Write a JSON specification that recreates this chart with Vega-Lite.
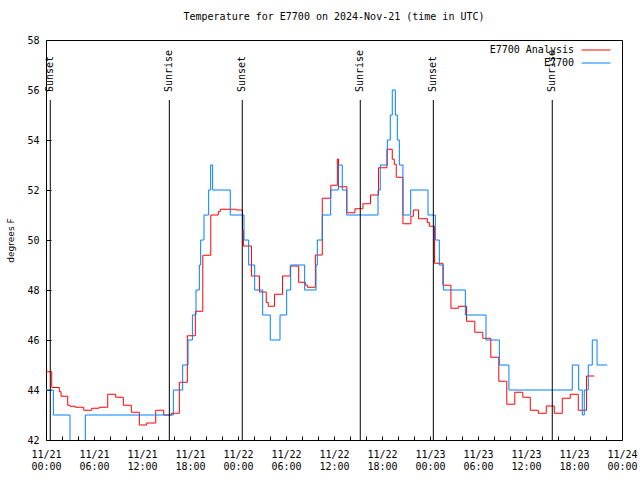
{
  "$schema": "https://vega.github.io/schema/vega-lite/v6.json",
  "width": 576,
  "height": 400,
  "autosize": {"type": "none"},
  "padding": {"left": 46, "top": 40, "right": 18, "bottom": 40},
  "background": "white",
  "title": {"text": "Temperature for E7700 on 2024-Nov-21 (time in UTC)", "font": "DejaVu Sans Mono", "fontSize": 10, "fontWeight": "normal", "color": "black", "offset": 13, "frame": "group", "anchor": "middle"},
  "config": {
    "view": {"stroke": "black", "strokeWidth": 1},
    "axis": {"labelFont": "DejaVu Sans Mono", "labelFontSize": 10, "labelColor": "black", "tickColor": "black", "tickWidth": 1, "domain": false, "grid": false}
  },
  "datasets": {
    "temps": [
      {"series": "E7700 Analysis", "time": "2024-11-21T00:00:00Z", "temp": 44.73},
      {"series": "E7700 Analysis", "time": "2024-11-21T00:43:00Z", "temp": 44.1},
      {"series": "E7700 Analysis", "time": "2024-11-21T01:40:00Z", "temp": 43.93},
      {"series": "E7700 Analysis", "time": "2024-11-21T01:53:00Z", "temp": 43.75},
      {"series": "E7700 Analysis", "time": "2024-11-21T02:43:00Z", "temp": 43.39},
      {"series": "E7700 Analysis", "time": "2024-11-21T03:00:00Z", "temp": 43.35},
      {"series": "E7700 Analysis", "time": "2024-11-21T03:40:00Z", "temp": 43.31},
      {"series": "E7700 Analysis", "time": "2024-11-21T04:43:00Z", "temp": 43.19},
      {"series": "E7700 Analysis", "time": "2024-11-21T05:43:00Z", "temp": 43.27},
      {"series": "E7700 Analysis", "time": "2024-11-21T06:38:00Z", "temp": 43.31},
      {"series": "E7700 Analysis", "time": "2024-11-21T07:43:00Z", "temp": 43.83},
      {"series": "E7700 Analysis", "time": "2024-11-21T08:43:00Z", "temp": 43.71},
      {"series": "E7700 Analysis", "time": "2024-11-21T09:40:00Z", "temp": 43.39},
      {"series": "E7700 Analysis", "time": "2024-11-21T10:40:00Z", "temp": 43.11},
      {"series": "E7700 Analysis", "time": "2024-11-21T11:40:00Z", "temp": 42.6},
      {"series": "E7700 Analysis", "time": "2024-11-21T12:35:00Z", "temp": 42.68},
      {"series": "E7700 Analysis", "time": "2024-11-21T13:43:00Z", "temp": 43.19},
      {"series": "E7700 Analysis", "time": "2024-11-21T14:43:00Z", "temp": 43.0},
      {"series": "E7700 Analysis", "time": "2024-11-21T15:40:00Z", "temp": 43.07},
      {"series": "E7700 Analysis", "time": "2024-11-21T16:40:00Z", "temp": 44.31},
      {"series": "E7700 Analysis", "time": "2024-11-21T17:40:00Z", "temp": 46.17},
      {"series": "E7700 Analysis", "time": "2024-11-21T18:40:00Z", "temp": 47.15},
      {"series": "E7700 Analysis", "time": "2024-11-21T19:36:00Z", "temp": 49.39},
      {"series": "E7700 Analysis", "time": "2024-11-21T20:36:00Z", "temp": 51.0},
      {"series": "E7700 Analysis", "time": "2024-11-21T21:32:00Z", "temp": 51.13},
      {"series": "E7700 Analysis", "time": "2024-11-21T21:47:00Z", "temp": 51.23},
      {"series": "E7700 Analysis", "time": "2024-11-21T23:47:00Z", "temp": 51.2},
      {"series": "E7700 Analysis", "time": "2024-11-22T00:34:00Z", "temp": 50.4},
      {"series": "E7700 Analysis", "time": "2024-11-22T00:41:00Z", "temp": 49.76},
      {"series": "E7700 Analysis", "time": "2024-11-22T01:41:00Z", "temp": 48.56},
      {"series": "E7700 Analysis", "time": "2024-11-22T02:41:00Z", "temp": 47.92},
      {"series": "E7700 Analysis", "time": "2024-11-22T03:32:00Z", "temp": 47.5},
      {"series": "E7700 Analysis", "time": "2024-11-22T03:47:00Z", "temp": 47.35},
      {"series": "E7700 Analysis", "time": "2024-11-22T04:34:00Z", "temp": 47.83},
      {"series": "E7700 Analysis", "time": "2024-11-22T05:34:00Z", "temp": 48.56},
      {"series": "E7700 Analysis", "time": "2024-11-22T06:32:00Z", "temp": 48.96},
      {"series": "E7700 Analysis", "time": "2024-11-22T07:35:00Z", "temp": 48.31},
      {"series": "E7700 Analysis", "time": "2024-11-22T08:25:00Z", "temp": 48.2},
      {"series": "E7700 Analysis", "time": "2024-11-22T08:40:00Z", "temp": 48.11},
      {"series": "E7700 Analysis", "time": "2024-11-22T09:40:00Z", "temp": 49.4},
      {"series": "E7700 Analysis", "time": "2024-11-22T10:32:00Z", "temp": 51.67},
      {"series": "E7700 Analysis", "time": "2024-11-22T11:36:00Z", "temp": 52.19},
      {"series": "E7700 Analysis", "time": "2024-11-22T12:25:00Z", "temp": 53.24},
      {"series": "E7700 Analysis", "time": "2024-11-22T12:34:00Z", "temp": 52.13},
      {"series": "E7700 Analysis", "time": "2024-11-22T13:37:00Z", "temp": 51.09},
      {"series": "E7700 Analysis", "time": "2024-11-22T14:37:00Z", "temp": 51.25},
      {"series": "E7700 Analysis", "time": "2024-11-22T15:37:00Z", "temp": 51.45},
      {"series": "E7700 Analysis", "time": "2024-11-22T16:34:00Z", "temp": 51.8},
      {"series": "E7700 Analysis", "time": "2024-11-22T17:34:00Z", "temp": 52.89},
      {"series": "E7700 Analysis", "time": "2024-11-22T18:37:00Z", "temp": 53.63},
      {"series": "E7700 Analysis", "time": "2024-11-22T19:17:00Z", "temp": 53.23},
      {"series": "E7700 Analysis", "time": "2024-11-22T19:32:00Z", "temp": 53.03},
      {"series": "E7700 Analysis", "time": "2024-11-22T19:47:00Z", "temp": 52.51},
      {"series": "E7700 Analysis", "time": "2024-11-22T20:37:00Z", "temp": 50.65},
      {"series": "E7700 Analysis", "time": "2024-11-22T21:37:00Z", "temp": 50.95},
      {"series": "E7700 Analysis", "time": "2024-11-22T21:55:00Z", "temp": 51.2},
      {"series": "E7700 Analysis", "time": "2024-11-22T22:34:00Z", "temp": 50.85},
      {"series": "E7700 Analysis", "time": "2024-11-22T23:40:00Z", "temp": 50.7},
      {"series": "E7700 Analysis", "time": "2024-11-22T23:55:00Z", "temp": 50.55},
      {"series": "E7700 Analysis", "time": "2024-11-23T00:34:00Z", "temp": 49.07},
      {"series": "E7700 Analysis", "time": "2024-11-23T01:37:00Z", "temp": 48.19},
      {"series": "E7700 Analysis", "time": "2024-11-23T02:37:00Z", "temp": 47.27},
      {"series": "E7700 Analysis", "time": "2024-11-23T03:32:00Z", "temp": 47.35},
      {"series": "E7700 Analysis", "time": "2024-11-23T04:34:00Z", "temp": 46.75},
      {"series": "E7700 Analysis", "time": "2024-11-23T05:36:00Z", "temp": 46.31},
      {"series": "E7700 Analysis", "time": "2024-11-23T06:36:00Z", "temp": 46.07},
      {"series": "E7700 Analysis", "time": "2024-11-23T07:36:00Z", "temp": 45.31},
      {"series": "E7700 Analysis", "time": "2024-11-23T08:36:00Z", "temp": 44.35},
      {"series": "E7700 Analysis", "time": "2024-11-23T09:36:00Z", "temp": 43.43},
      {"series": "E7700 Analysis", "time": "2024-11-23T10:36:00Z", "temp": 43.91},
      {"series": "E7700 Analysis", "time": "2024-11-23T11:36:00Z", "temp": 43.71},
      {"series": "E7700 Analysis", "time": "2024-11-23T12:32:00Z", "temp": 43.19},
      {"series": "E7700 Analysis", "time": "2024-11-23T13:32:00Z", "temp": 43.07},
      {"series": "E7700 Analysis", "time": "2024-11-23T14:32:00Z", "temp": 43.36},
      {"series": "E7700 Analysis", "time": "2024-11-23T15:32:00Z", "temp": 43.07},
      {"series": "E7700 Analysis", "time": "2024-11-23T16:32:00Z", "temp": 43.67},
      {"series": "E7700 Analysis", "time": "2024-11-23T17:32:00Z", "temp": 43.83},
      {"series": "E7700 Analysis", "time": "2024-11-23T18:32:00Z", "temp": 43.19},
      {"series": "E7700 Analysis", "time": "2024-11-23T19:34:00Z", "temp": 44.56},
      {"series": "E7700 Analysis", "time": "2024-11-23T20:32:00Z", "temp": 44.56},
      {"series": "E7700", "time": "2024-11-21T00:00:00Z", "temp": 44},
      {"series": "E7700", "time": "2024-11-21T00:55:00Z", "temp": 43},
      {"series": "E7700", "time": "2024-11-21T03:00:00Z", "temp": 41},
      {"series": "E7700", "time": "2024-11-21T04:55:00Z", "temp": 43},
      {"series": "E7700", "time": "2024-11-21T15:55:00Z", "temp": 44},
      {"series": "E7700", "time": "2024-11-21T17:05:00Z", "temp": 45},
      {"series": "E7700", "time": "2024-11-21T17:45:00Z", "temp": 46},
      {"series": "E7700", "time": "2024-11-21T18:18:00Z", "temp": 47},
      {"series": "E7700", "time": "2024-11-21T18:45:00Z", "temp": 48},
      {"series": "E7700", "time": "2024-11-21T19:10:00Z", "temp": 49},
      {"series": "E7700", "time": "2024-11-21T19:20:00Z", "temp": 50},
      {"series": "E7700", "time": "2024-11-21T19:45:00Z", "temp": 51},
      {"series": "E7700", "time": "2024-11-21T20:20:00Z", "temp": 52},
      {"series": "E7700", "time": "2024-11-21T20:35:00Z", "temp": 53},
      {"series": "E7700", "time": "2024-11-21T20:50:00Z", "temp": 52},
      {"series": "E7700", "time": "2024-11-21T23:02:00Z", "temp": 51},
      {"series": "E7700", "time": "2024-11-22T00:45:00Z", "temp": 50},
      {"series": "E7700", "time": "2024-11-22T01:20:00Z", "temp": 49},
      {"series": "E7700", "time": "2024-11-22T02:05:00Z", "temp": 48},
      {"series": "E7700", "time": "2024-11-22T03:05:00Z", "temp": 47},
      {"series": "E7700", "time": "2024-11-22T04:02:00Z", "temp": 46},
      {"series": "E7700", "time": "2024-11-22T05:15:00Z", "temp": 47},
      {"series": "E7700", "time": "2024-11-22T06:05:00Z", "temp": 48},
      {"series": "E7700", "time": "2024-11-22T06:35:00Z", "temp": 49},
      {"series": "E7700", "time": "2024-11-22T08:20:00Z", "temp": 48},
      {"series": "E7700", "time": "2024-11-22T09:45:00Z", "temp": 49},
      {"series": "E7700", "time": "2024-11-22T09:55:00Z", "temp": 50},
      {"series": "E7700", "time": "2024-11-22T10:32:00Z", "temp": 51},
      {"series": "E7700", "time": "2024-11-22T11:35:00Z", "temp": 52},
      {"series": "E7700", "time": "2024-11-22T12:32:00Z", "temp": 53},
      {"series": "E7700", "time": "2024-11-22T13:02:00Z", "temp": 52},
      {"series": "E7700", "time": "2024-11-22T13:35:00Z", "temp": 51},
      {"series": "E7700", "time": "2024-11-22T17:30:00Z", "temp": 52},
      {"series": "E7700", "time": "2024-11-22T17:47:00Z", "temp": 53},
      {"series": "E7700", "time": "2024-11-22T18:40:00Z", "temp": 54},
      {"series": "E7700", "time": "2024-11-22T19:02:00Z", "temp": 55},
      {"series": "E7700", "time": "2024-11-22T19:17:00Z", "temp": 56},
      {"series": "E7700", "time": "2024-11-22T19:40:00Z", "temp": 55},
      {"series": "E7700", "time": "2024-11-22T19:55:00Z", "temp": 54},
      {"series": "E7700", "time": "2024-11-22T20:10:00Z", "temp": 53},
      {"series": "E7700", "time": "2024-11-22T20:37:00Z", "temp": 51},
      {"series": "E7700", "time": "2024-11-22T21:35:00Z", "temp": 52},
      {"series": "E7700", "time": "2024-11-22T23:45:00Z", "temp": 51},
      {"series": "E7700", "time": "2024-11-23T00:40:00Z", "temp": 50},
      {"series": "E7700", "time": "2024-11-23T01:10:00Z", "temp": 49},
      {"series": "E7700", "time": "2024-11-23T01:40:00Z", "temp": 48},
      {"series": "E7700", "time": "2024-11-23T04:25:00Z", "temp": 47},
      {"series": "E7700", "time": "2024-11-23T07:00:00Z", "temp": 46},
      {"series": "E7700", "time": "2024-11-23T08:40:00Z", "temp": 45},
      {"series": "E7700", "time": "2024-11-23T09:52:00Z", "temp": 44},
      {"series": "E7700", "time": "2024-11-23T17:47:00Z", "temp": 45},
      {"series": "E7700", "time": "2024-11-23T18:35:00Z", "temp": 44},
      {"series": "E7700", "time": "2024-11-23T19:02:00Z", "temp": 43},
      {"series": "E7700", "time": "2024-11-23T19:17:00Z", "temp": 44},
      {"series": "E7700", "time": "2024-11-23T19:47:00Z", "temp": 45},
      {"series": "E7700", "time": "2024-11-23T20:17:00Z", "temp": 46},
      {"series": "E7700", "time": "2024-11-23T20:53:00Z", "temp": 45},
      {"series": "E7700", "time": "2024-11-23T22:10:00Z", "temp": 45}
    ],
    "sun": [
      {"time": "2024-11-21T00:32:00Z", "label": "Sunset"},
      {"time": "2024-11-21T15:25:00Z", "label": "Sunrise"},
      {"time": "2024-11-22T00:32:00Z", "label": "Sunset"},
      {"time": "2024-11-22T15:17:00Z", "label": "Sunrise"},
      {"time": "2024-11-23T00:25:00Z", "label": "Sunset"},
      {"time": "2024-11-23T15:17:00Z", "label": "Sunrise"}
    ]
  },
  "layer": [
    {
      "data": {"name": "temps"},
      "mark": {"type": "line", "interpolate": "step-after", "strokeWidth": 1, "clip": true},
      "encoding": {
        "x": {
          "field": "time", "type": "temporal",
          "scale": {"type": "utc", "domain": [1732147200000, 1732406400000]},
          "axis": {
            "orient": "bottom", "title": null,
            "tickCount": 60,
            "values": [1732147200000, 1732154400000, 1732161600000, 1732168800000, 1732176000000, 1732183200000, 1732190400000, 1732197600000, 1732204800000, 1732212000000, 1732219200000, 1732226400000, 1732233600000, 1732240800000, 1732248000000, 1732255200000, 1732262400000, 1732269600000, 1732276800000, 1732284000000, 1732291200000, 1732298400000, 1732305600000, 1732312800000, 1732320000000, 1732327200000, 1732334400000, 1732341600000, 1732348800000, 1732356000000, 1732363200000, 1732370400000, 1732377600000, 1732384800000, 1732392000000, 1732399200000, 1732406400000],
            "labelExpr": "utchours(datum.value) % 6 == 0 ? [utcFormat(datum.value, '%m/%d'), utcFormat(datum.value, '%H:%M')] : ''",
            "tickSize": -4,
            "labelPadding": 13,
            "labelFlush": false,
            "labelOverlap": false
          }
        },
        "y": {
          "field": "temp", "type": "quantitative",
          "scale": {"domain": [42, 58], "nice": false, "zero": false},
          "axis": {
            "orient": "left", "values": [42, 44, 46, 48, 50, 52, 54, 56, 58],
            "tickSize": -5, "labelPadding": 12,
            "title": "degrees F", "titleFont": "DejaVu Sans", "titleFontSize": 9, "titleFontWeight": "normal", "titleColor": "black", "titlePadding": 11
          }
        },
        "color": {
          "field": "series", "type": "nominal",
          "scale": {"domain": ["E7700 Analysis", "E7700"], "range": ["#ff0000", "#0080ff"]},
          "legend": {
            "orient": "none", "legendX": 545, "legendY": 5, "title": null,
            "symbolType": "M-14.5,0H14.5", "symbolSize": 4, "symbolStrokeWidth": 1,
            "labelAlign": "right", "labelOffset": -27, "labelFont": "DejaVu Sans Mono", "labelFontSize": 10, "labelColor": "black", "labelLimit": 300,
            "rowPadding": 3, "padding": 0
          }
        }
      }
    },
    {
      "data": {"name": "sun"},
      "mark": {"type": "rule", "color": "black", "strokeWidth": 1},
      "encoding": {
        "x": {"field": "time", "type": "temporal"},
        "y": {"datum": 55.6, "type": "quantitative"},
        "y2": {"datum": 42}
      }
    },
    {
      "data": {"name": "sun"},
      "mark": {"type": "text", "angle": 270, "align": "left", "baseline": "middle", "font": "DejaVu Sans Mono", "fontSize": 10, "color": "black"},
      "encoding": {
        "x": {"field": "time", "type": "temporal"},
        "y": {"datum": 55.92, "type": "quantitative"},
        "text": {"field": "label"}
      }
    }
  ]
}
